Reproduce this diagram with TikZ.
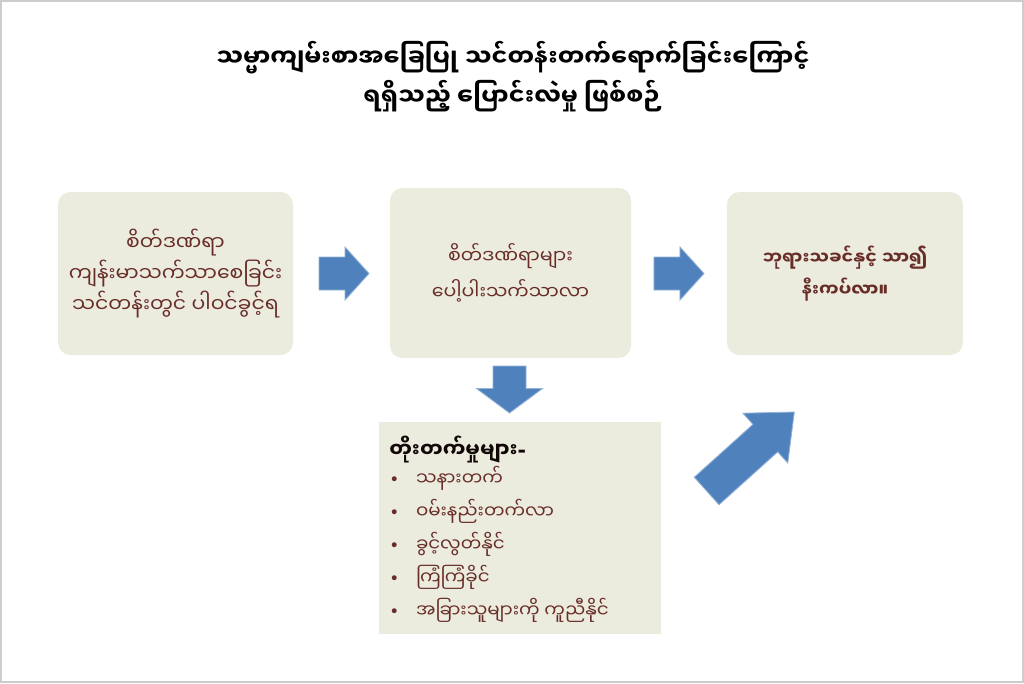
\documentclass[tikz,border=0pt]{standalone}
\usepackage{fontspec}
\usepackage{xcolor}
\newfontfamily\mmfont[Script=Myanmar]{Noto Sans Myanmar UI}
\newfontfamily\latinfont{DejaVu Sans}
\definecolor{card}{RGB}{235,235,222}
\definecolor{arrowblue}{RGB}{79,129,189}
\definecolor{textbrown}{RGB}{105,45,40}
\definecolor{framegray}{RGB}{205,205,205}
\newcommand{\gainitem}{\makebox[19pt][l]{\latinfont\fontsize{12}{12}\selectfont •}}

\begin{document}
\begin{tikzpicture}[
    x=0.025cm, y=0.025cm,
    every node/.style={font=\mmfont},
    cardbox/.style={fill=card, rounded corners=9pt, text=textbrown, align=center,
        font=\mmfont\fontsize{14.5}{22}\selectfont},
    blockarrow/.style={fill=arrowblue, draw=arrowblue!60!white, line width=0.6pt}
]
% page and frame
\fill[white] (0,0) rectangle (1024,683);
\draw[framegray, line width=1.5pt] (1,1) rectangle (1023,682);

% title
\node[font=\mmfont\bfseries\fontsize{17}{30.5}\selectfont, align=center] (title) at (513,606.5)
    {သမ္မာကျမ်းစာအခြေပြု သင်တန်းတက်ရောက်ခြင်းကြောင့်\\[-3pt]ရရှိသည့် ပြောင်းလဲမှု ဖြစ်စဉ်};

% three steps
\node[cardbox, minimum width=5.875cm, minimum height=4.075cm] (dannrar) at (175.5,409.5)
    {စိတ်ဒဏ်ရာ\\ကျန်းမာသက်သာစေခြင်း\\သင်တန်းတွင် ပါဝင်ခွင့်ရ};
\node[cardbox, minimum width=6.025cm, minimum height=4.25cm,
      font=\mmfont\fontsize{13.5}{26}\selectfont] (peaupar) at (510.5,410)
    {စိတ်ဒဏ်ရာများ\\ပေါ့ပါးသက်သာလာ};
\node[cardbox, minimum width=5.9cm, minimum height=4.075cm,
      font=\mmfont\bfseries\fontsize{12.5}{22.5}\selectfont] (naekat) at (845,409.5)
    {ဘုရားသခင်နှင့် သာ၍\\နီးကပ်လာ။};

% list of gains
\node[fill=card, minimum width=7.05cm, minimum height=5.3cm] (tothet) at (520,155) {};
\node[anchor=north west, inner sep=0pt, align=left, text=textbrown,
      font=\mmfont\fontsize{13}{23.5}\selectfont] (items) at (389,247)
    {{\bfseries\fontsize{14.5}{23.5}\selectfont\color{black!85!textbrown}တိုးတက်မှုများ{\latinfont -}}\\[-4pt]
     \gainitem သနားတက်\\
     \gainitem ဝမ်းနည်းတက်လာ\\
     \gainitem ခွင့်လွတ်နိုင်\\
     \gainitem ကြံကြံခိုင်\\
     \gainitem အခြားသူများကို ကူညီနိုင်};

% block arrows
\fill[blockarrow, shift={(344,409.5)}] (-25,-16.5) -- (1,-16.5) -- (1,-26.5) -- (25,0)
    -- (1,26.5) -- (1,16.5) -- (-25,16.5) -- cycle;
\fill[blockarrow, shift={(679,409.5)}] (-25,-16.5) -- (1,-16.5) -- (1,-26.5) -- (25,0)
    -- (1,26.5) -- (1,16.5) -- (-25,16.5) -- cycle;
\fill[blockarrow, shift={(509.5,293.5)}] (-16.5,23.5) -- (-16.5,1) -- (-33,1) -- (0,-23.5)
    -- (33,1) -- (16.5,1) -- (16.5,23.5) -- cycle;
\fill[blockarrow, shift={(750.5,231.5)}, rotate=42] (-59,-18.5) -- (20,-18.5) -- (20,-33.5)
    -- (59,0) -- (20,33.5) -- (20,18.5) -- (-59,18.5) -- cycle;
\end{tikzpicture}
\end{document}
